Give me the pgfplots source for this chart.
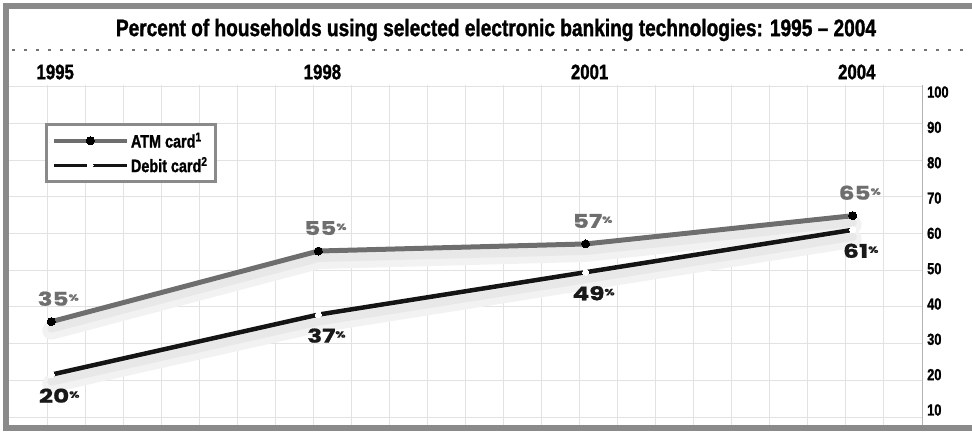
\documentclass[border=0pt]{standalone}
\usepackage{pgfplots}
\pgfplotsset{compat=1.18}
\usepackage{fontspec}
\setmainfont{Liberation Sans}
\newfontfamily\cond[FakeStretch=0.8,FakeBold=1.3]{Liberation Sans}
\newfontfamily\wide[FakeStretch=1.3,FakeBold=0.8]{Poppins}
\definecolor{atmgray}{HTML}{6E6E6E}
\definecolor{framegray}{HTML}{8A8A8A}
\definecolor{gridgray}{HTML}{E2E2E2}
\begin{document}
\begin{tikzpicture}[x=1pt,y=1pt]
\useasboundingbox (0,0) rectangle (972,432);
% grid
\begin{axis}[at={(9pt,7pt)}, anchor=south west, scale only axis,
  width=913pt, height=340pt,
  xmin=9, xmax=922, ymin=7, ymax=347,
  xtick={47,85,...,884}, ytick={15,51.7,...,346},
  xticklabels={}, yticklabels={},
  grid=major, grid style={gridgray, line width=1pt},
  axis line style={draw=none}, tick style={draw=none}]
\end{axis}
% frame
\draw[framegray, line width=6pt] (990,425.5) -- (6,425.5) -- (6,4) -- (990,4);
% right axis line
\draw[black!30, line width=1pt] (922,7) -- (922,347);
% dotted rule
\draw[black!55, line width=2.6pt, dash pattern=on 2.6pt off 9.4pt] (12,382) -- (972,382);
% title
\node at (496,402) {\resizebox{760pt}{!}{\cond\bfseries Percent of households using selected electronic banking technologies: 1995 – 2004}};
\begin{axis}[at={(9pt,7pt)}, anchor=south west, scale only axis,
  width=913pt, height=340pt,
  xmin=1994.526, xmax=2004.777, ymin=5.75, ymax=102,
  clip=false,
  axis line style={draw=none}, tick style={draw=none},
  /pgf/number format/assume math mode=true,
  /pgf/number format/1000 sep={},
  xtick={1995,1998,2001,2004}, xticklabel pos=upper,
  x tick label style={font=\cond\bfseries\fontsize{21}{21}\selectfont, anchor=center, yshift=13pt, xshift=4pt},
  ytick={10,20,...,100}, yticklabel pos=right,
  y tick label style={font=\cond\bfseries\fontsize{16}{16}\selectfont, anchor=west, inner sep=0pt, xshift=5pt},
  legend style={at={(rel axis cs:0.0394,0.888)}, anchor=north west, draw=framegray, line width=3pt, fill=white,
    font=\cond\bfseries\fontsize{18}{18}\selectfont, row sep=4pt, inner xsep=6pt, inner ysep=6pt},
  legend cell align=left,
  legend image code/.code={\draw[mark repeat=2,mark phase=2,#1,line width=3.5pt] plot coordinates {(0pt,0pt) (36pt,0pt) (73pt,0pt)};},
]
% shadows
\addplot[forget plot, draw=black!5, line width=18pt, line join=round, line cap=round, yshift=-9pt] coordinates {(1995,35) (1998,55) (2001,57) (2004,65)};
\addplot[forget plot, draw=black!5, line width=18pt, line join=round, line cap=round, yshift=-9pt] coordinates {(1995,20) (1998,37) (2001,49) (2004,61)};
\addplot[forget plot, draw=black!9, line width=8pt, line join=round, line cap=round, yshift=-7pt] coordinates {(1995,35) (1998,55) (2001,57) (2004,65)};
\addplot[forget plot, draw=black!9, line width=8pt, line join=round, line cap=round, yshift=-7pt] coordinates {(1995,20) (1998,37) (2001,49) (2004,61)};
% ATM
\addplot[draw=atmgray, line width=5pt, line join=round, mark=*, mark size=4pt,
  mark options={fill=black, draw=black, line width=0pt},
  point meta=y,
  nodes near coords={\pgfmathprintnumber{\pgfplotspointmeta}{\fontsize{9}{9}\selectfont\raisebox{5pt}{\%}}},
  every node near coord/.append style={font=\wide\bfseries\fontsize{19}{19}\selectfont, text=atmgray, anchor=center, yshift=23pt, xshift=7pt}]
  coordinates {(1995,35) (1998,55) (2001,57) (2004,65)};
\addlegendentry{ATM card\textsuperscript{1}}
% Debit
\addplot[draw=black!92, line width=4.5pt, line join=round, mark=*, mark size=3pt,
  mark options={fill=white, draw=white, line width=0pt},
  point meta=y,
  nodes near coords={\pgfmathprintnumber{\pgfplotspointmeta}{\fontsize{9}{9}\selectfont\raisebox{5pt}{\%}}},
  every node near coord/.append style={font=\wide\bfseries\fontsize{19}{19}\selectfont, text=black!90, anchor=center, yshift=-21pt, xshift=8pt}]
  coordinates {(1995,20) (1998,37) (2001,49) (2004,61)};
\addlegendentry{Debit card\textsuperscript{2}}
\end{axis}
\end{tikzpicture}
\end{document}
